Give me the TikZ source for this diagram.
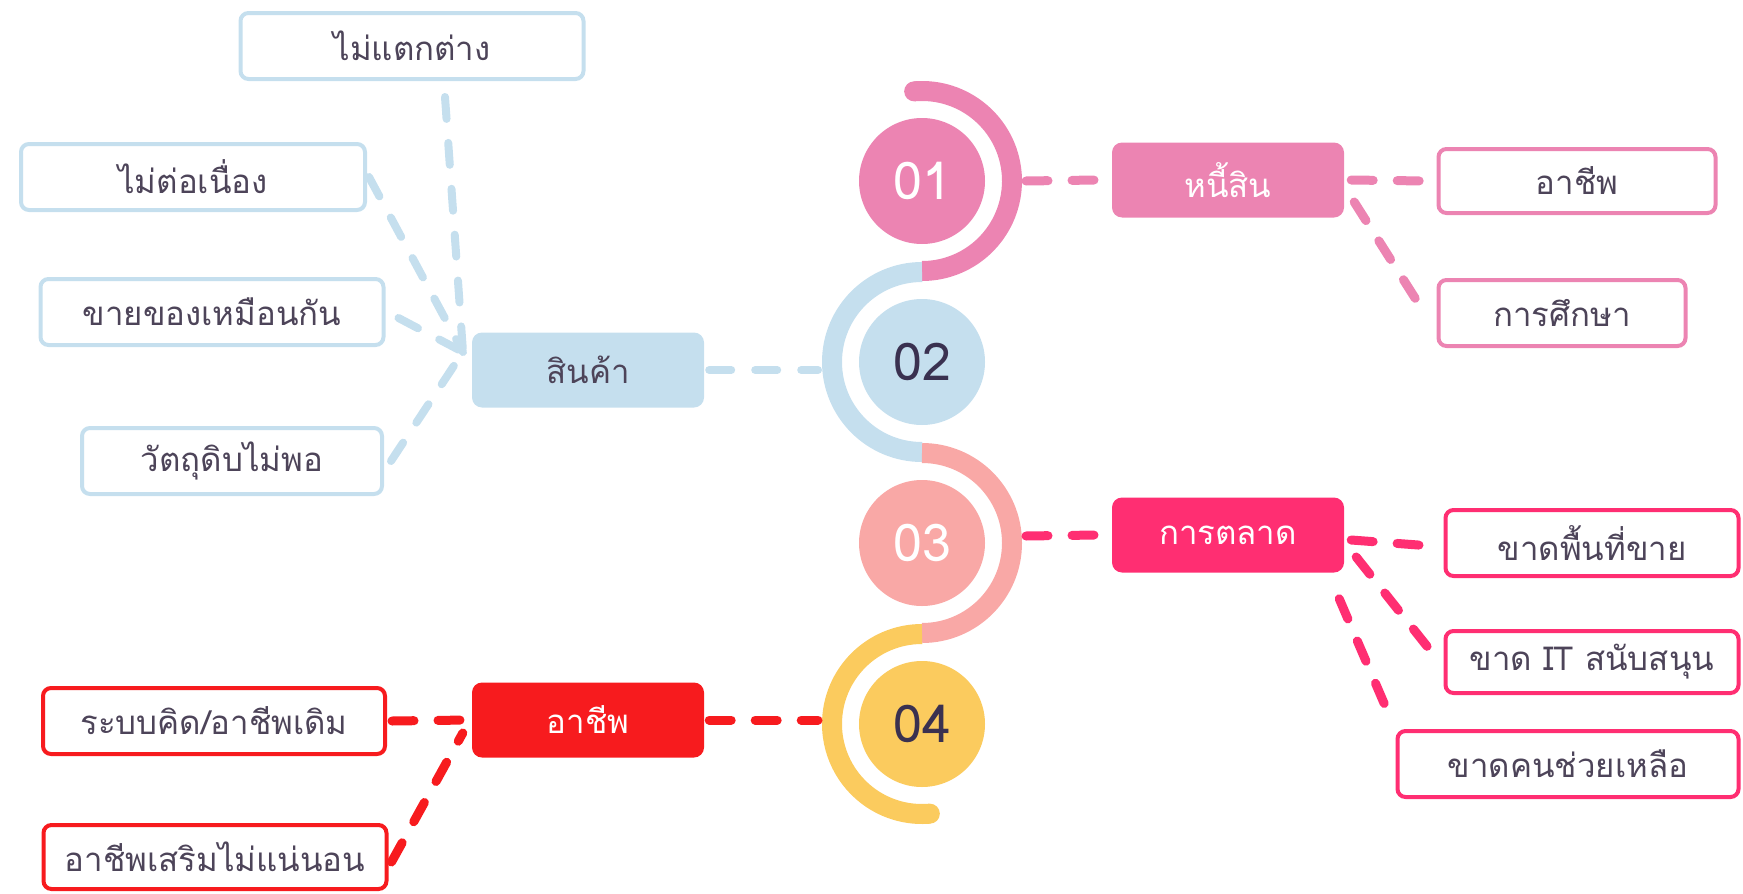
\documentclass[tikz,border=0pt]{standalone}
\usepackage{fontspec}
\newfontfamily\thaifont[Script=Thai]{Loma}
\usetikzlibrary{positioning}
\definecolor{debtpink}{HTML}{EC84B2}
\definecolor{prodblue}{HTML}{C5DFEE}
\definecolor{mktsalmon}{HTML}{F9A8A6}
\definecolor{mktpink}{HTML}{FF2E72}
\definecolor{jobyellow}{HTML}{FBCB5E}
\definecolor{jobred}{HTML}{F71B1E}
\definecolor{inkgray}{HTML}{4D4459}
\definecolor{inkdark}{HTML}{3A3150}

\begin{document}
\begin{tikzpicture}[x=1pt,y=1pt]
\tikzstyle{every node}+=[inner sep=0pt, text=inkgray, font=\thaifont\fontsize{33}{40}\selectfont]
\tikzstyle{leaf}=[draw, line width=4pt, fill=white, rounded corners=8pt, minimum height=66pt]
\tikzstyle{topic}=[rounded corners=10pt, minimum width=232pt, minimum height=75pt]
\tikzstyle{bead}=[circle, minimum size=126pt, font=\thaifont\fontsize{52}{60}\selectfont]
\tikzstyle{ring}=[line width=20pt]
\tikzstyle{link}=[line width=9pt, line cap=round, dash pattern=on 22pt off 24pt]
\useasboundingbox (0,0) rectangle (1743,-894);
% the chain of rings
\draw [ring, debtpink] (922,-181) ++(95:90) arc (95:-90:90);
\fill [debtpink] (922,-181) ++(95:90) circle (10);
\draw [ring, prodblue] (922,-362) ++(90:90) arc (90:270:90);
\draw [ring, mktsalmon] (922,-543) ++(90:90) arc (90:-90:90);
\draw [ring, jobyellow] (922,-724) ++(90:90) arc (90:275:90);
\fill [jobyellow] (922,-724) ++(275:90) circle (10);
\node [bead, fill=debtpink, text=white] (c01) at (922,-181) {01};
\node [bead, fill=prodblue, text=inkdark] (c02) at (922,-362) {02};
\node [bead, fill=mktsalmon, text=white] (c03) at (922,-543) {03};
\node [bead, fill=jobyellow, text=inkdark] (c04) at (922,-724) {04};
\coordinate (a01) at (1026,-181);
\coordinate (a02) at (818,-370);
\coordinate (a03) at (1026,-536);
\coordinate (a04) at (818,-720);
% topics
\node [topic, fill=debtpink, text=white] (debt) at (1228,-180) {หนี้สิน};
\node [topic, fill=prodblue] (product) at (588,-370) {สินค้า};
\node [topic, fill=mktpink, text=white] (market) at (1228,-535) {การตลาด};
\node [topic, fill=jobred, text=white] (job) at (588,-720) {อาชีพ};
% product leaves
\node [leaf, draw=prodblue, minimum width=343pt] (noDiff) at (412,-46) {ไม่แตกต่าง};
\node [leaf, draw=prodblue, minimum width=344pt] (noCont) at (193,-177) {ไม่ต่อเนื่อง};
\node [leaf, draw=prodblue, minimum width=343pt] (sameGoods) at (212,-312) {ขายของเหมือนกัน};
\node [leaf, draw=prodblue, minimum width=300pt] (lowMat) at (232,-461) {วัตถุดิบไม่พอ};
\coordinate (prodjoint) at (463,-352);
% debt leaves
\node [leaf, draw=debtpink, minimum width=277pt, minimum height=64pt] (debtJob) at (1577,-181) {อาชีพ};
\node [leaf, draw=debtpink, minimum width=247pt] (debtEdu) at (1562,-313) {การศึกษา};
% market leaves
\node [leaf, draw=mktpink, minimum width=293pt] (noSpace) at (1592,-543) {ขาดพื้นที่ขาย};
\node [leaf, draw=mktpink, minimum width=293pt, minimum height=62pt] (noIT) at (1592,-662) {ขาด IT สนับสนุน};
\node [leaf, draw=mktpink, minimum width=341pt] (noHelp) at (1568,-764) {ขาดคนช่วยเหลือ};
% job leaves
\node [leaf, draw=jobred, minimum width=342pt] (oldJob) at (214,-721) {ระบบคิด/อาชีพเดิม};
\node [leaf, draw=jobred, minimum width=343pt, minimum height=64pt] (sideJob) at (215,-857) {อาชีพเสริมไม่แน่นอน};
% links
\draw [link, debtpink] (a01) -- ([xshift=-15pt]debt.west);
\draw [link, prodblue, line width=8pt] ([xshift=5pt]product.east) -- (a02);
\draw [link, mktpink] (a03) -- ([xshift=-15pt]market.west);
\draw [link, jobred] ([xshift=5pt]job.east) -- (a04);
\draw [link, debtpink] ([xshift=7pt]debt.east) -- ([xshift=-12pt]debtJob.west);
\draw [link, debtpink] ([shift={(10,-22)}]debt.east) -- ([xshift=-12pt]debtEdu.west);
\draw [link, mktpink] ([shift={(7,-5)}]market.east) -- ([shift={(-12,-3)}]noSpace.west);
\draw [link, mktpink] ([shift={(12,-22)}]market.east) -- ([xshift=-4pt]noIT.west);
\draw [link, mktpink] ([shift={(-5,-26)}]market.south east) -- ([shift={(-6,13)}]noHelp.north west);
\draw [link, prodblue, line width=8pt] ([shift={(33,-16)}]noDiff.south) -- (prodjoint);
\draw [link, prodblue, line width=8pt] ([xshift=2pt]noCont.east) -- (prodjoint);
\draw [link, prodblue, line width=8pt] ([shift={(13,-6)}]sameGoods.east) -- (prodjoint);
\draw [link, prodblue, line width=8pt] ([xshift=7pt]lowMat.east) -- (prodjoint);
\draw [link, jobred] ([xshift=5pt]oldJob.east) -- ([xshift=-3pt]job.west);
\draw [link, jobred] ([shift={(3,-5)}]sideJob.east) -- ([shift={(-9,-13)}]job.west);
\end{tikzpicture}
\end{document}
